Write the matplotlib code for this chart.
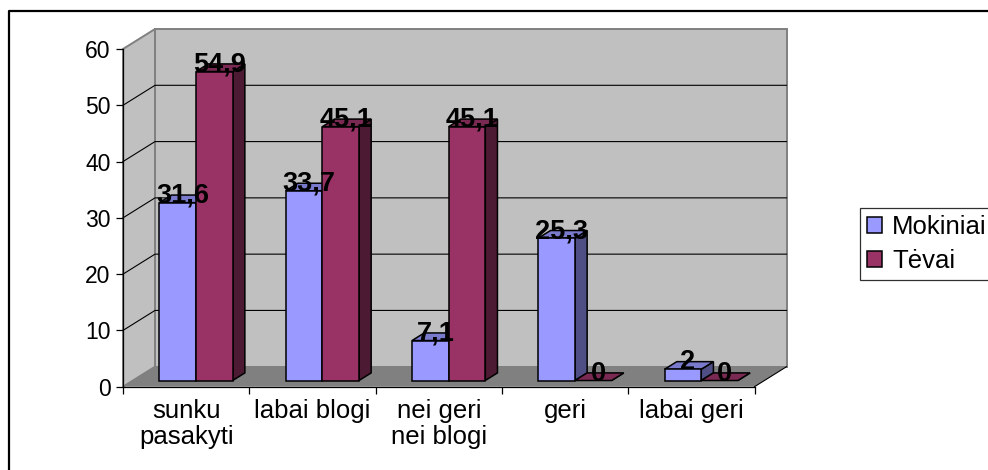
import matplotlib
matplotlib.use("Agg")
import matplotlib.pyplot as plt
from matplotlib.lines import Line2D
from matplotlib.patches import Patch, Polygon

categories = ["sunku\npasakyti", "labai blogi", "nei geri\nnei blogi", "geri", "labai geri"]
mokiniai = [31.6, 33.7, 7.1, 25.3, 2]
tevai = [54.9, 45.1, 45.1, 0, 0]
value_labels_m = ["31,6", "33,7", "7,1", "25,3", "2"]
value_labels_t = ["54,9", "45,1", "45,1", "0", "0"]
y_ticks = [0, 10, 20, 30, 40, 50, 60]

W, H = 988, 470
DX, DY = 0.2534, 3.55      # depth of the fake 3d box, in data units
F0, F1 = 0.31, 0.69        # where the bars sit inside that depth
GAP, BAR_W = 0.21, 0.29

plt.rcParams["font.family"] = ["Liberation Sans", "DejaVu Sans"]

fig = plt.figure(figsize=(W / 100, H / 100), dpi=100, facecolor="white")
ax = fig.add_axes([123 / W, 1 - 386.7 / H, (754.5 - 123) / W, (386.7 - 49) / H])
ax.set_xlim(0, len(categories))
ax.set_ylim(0, 60)
ax.patch.set_visible(False)


def poly(pts, face, edge="none", lw=0.0, z=1):
    ax.add_patch(Polygon(pts, closed=True, facecolor=face, edgecolor=edge,
                         linewidth=lw, zorder=z, clip_on=False, joinstyle="miter"))


n = len(categories)
# walls and floor
poly([(DX, DY), (n + DX, DY), (n + DX, 60 + DY), (DX, 60 + DY)], "#C0C0C0", "#808080", 1.4)
poly([(0, 0), (DX, DY), (DX, 60 + DY), (0, 60)], "#C0C0C0", "#808080", 1.4)
poly([(0, 0), (n, 0), (n + DX, DY), (DX, DY)], "#808080")

for v in y_ticks[1:-1]:
    ax.plot([0, DX, n + DX], [v, v + DY, v + DY], color="black", lw=0.8, zorder=1.5, clip_on=False)


def draw_bar(x, val, front, top, side, z):
    x0 = x + DX * F0
    x1 = x0 + BAR_W
    y0 = DY * F0
    ddx = DX * (F1 - F0)
    ddy = DY * (F1 - F0)
    lw = 1.1
    poly([(x1, y0), (x1 + ddx, y0 + ddy), (x1 + ddx, y0 + ddy + val), (x1, y0 + val)], side, "black", lw, z)
    poly([(x0, y0 + val), (x1, y0 + val), (x1 + ddx, y0 + ddy + val), (x0 + ddx, y0 + ddy + val)], top, "black", lw, z)
    if val > 0:
        poly([(x0, y0), (x1, y0), (x1, y0 + val), (x0, y0 + val)], front, "black", lw, z)


z = 2
for i in range(n):
    draw_bar(i + GAP, mokiniai[i], "#9999FF", "#7A7ACC", "#4F4F85", z)
    draw_bar(i + GAP + BAR_W, tevai[i], "#993366", "#7A2952", "#4D1A33", z + 0.1)
    z += 1

for i in range(n):
    for j, (vals, labels) in enumerate([(mokiniai, value_labels_m), (tevai, value_labels_t)]):
        tx = i + GAP + (j + 0.5) * BAR_W + DX * 0.5 - 0.008
        ty = vals[i] + DY * F0
        ax.text(tx, ty, labels[i], ha="center", va="baseline", fontsize=19.5,
                fontweight="bold", color="black", zorder=20, clip_on=False)

# front axis lines
for s in ["top", "right"]:
    ax.spines[s].set_visible(False)
for s in ["left", "bottom"]:
    ax.spines[s].set_linewidth(0.9)
    ax.spines[s].set_zorder(10)
ax.plot([n, n + DX], [0, DY], color="black", lw=0.8, zorder=1.2, clip_on=False)

ax.set_yticks(y_ticks)
ax.set_yticklabels([str(v) for v in y_ticks], fontsize=16.5)
ax.set_xticks(range(n + 1))
ax.set_xticklabels([])
ax.set_xticks([i + 0.5 for i in range(n)], minor=True)
ax.set_xticklabels(categories, minor=True, fontsize=18.5, linespacing=1.1)
ax.tick_params(axis="y", length=5, width=0.9, pad=4)
ax.tick_params(axis="x", which="major", length=5, width=0.9)
ax.tick_params(axis="x", which="minor", length=0, pad=9)

handles = [Patch(facecolor="#9999FF", edgecolor="black", linewidth=1.1, label="Mokiniai"),
           Patch(facecolor="#993366", edgecolor="black", linewidth=1.1, label="Tėvai")]
leg = fig.legend(handles=handles, loc="upper left", bbox_to_anchor=(860 / W, 1 - 208 / H),
                 borderaxespad=0, fontsize=18.5, fancybox=False, framealpha=1, edgecolor="#303030",
                 handlelength=0.58, handleheight=0.58, handletextpad=0.4,
                 labelspacing=0.4, borderpad=0.27)
leg.get_frame().set_linewidth(0.9)

# outer frame, runs off the right and bottom edge of the picture
fig.add_artist(Line2D([8.5 / W, 8.5 / W, 1], [0, 1 - 11 / H, 1 - 11 / H], color="black", lw=1.6))

fig.savefig("out.png", dpi=100)
